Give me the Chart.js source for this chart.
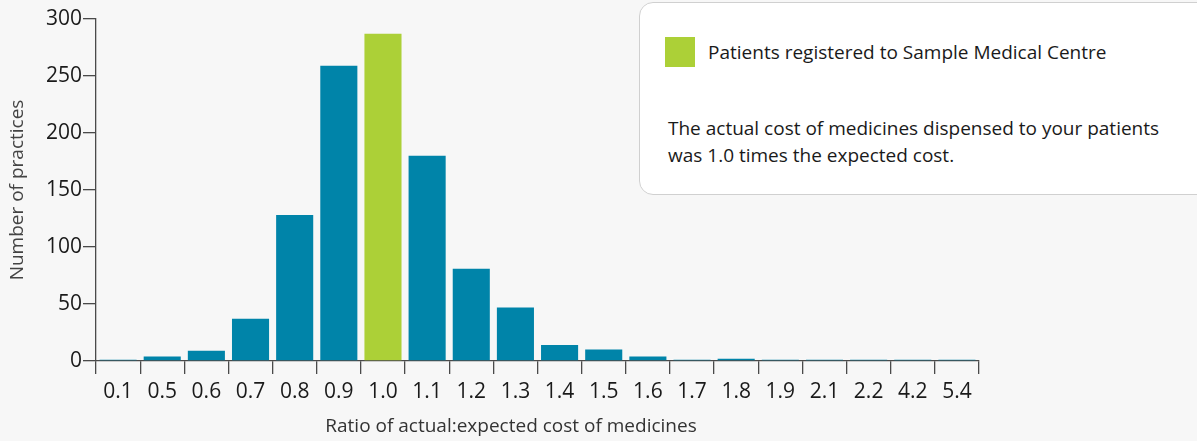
<!DOCTYPE html>
<html>
<head>
<meta charset="utf-8">
<script src="https://cdn.jsdelivr.net/npm/chart.js@4.4.0/dist/chart.umd.min.js"></script>
<style>
  body { margin: 0; background: #f7f7f7; font-family: 'Open Sans', sans-serif; }
  #wrap { position: relative; width: 1197px; height: 441px; overflow: hidden; }
  #legendBox {
    position: absolute; left: 639px; top: 2px; width: 600px; height: 193px;
    background: #fff; border: 1px solid #d0d0d0; border-radius: 14px; box-sizing: border-box;
  }
  #swatch { position: absolute; left: 25px; top: 34px; width: 30px; height: 30px; background: #acd037; }
  #legendLabel { position: absolute; left: 68px; top: 36px; font-size: 19px; color: #1a1a1a; white-space: nowrap; }
  #legendNote { position: absolute; left: 28px; top: 112px; font-size: 19px; line-height: 27px; color: #1a1a1a; white-space: nowrap; }
</style>
</head>
<body>
<div id="wrap">
  <canvas id="costChart" width="1197" height="441"></canvas>
  <div id="legendBox">
    <div id="swatch"></div>
    <div id="legendLabel">Patients registered to Sample Medical Centre</div>
    <div id="legendNote">The actual cost of medicines dispensed to your patients<br>was 1.0 times the expected cost.</div>
  </div>
</div>
<script>
const ratioLabels = ['0.1', '0.5', '0.6', '0.7', '0.8', '0.9', '1.0', '1.1', '1.2', '1.3',
                     '1.4', '1.5', '1.6', '1.7', '1.8', '1.9', '2.1', '2.2', '4.2', '5.4'];
const practiceCounts = [1, 4, 9, 37, 128, 259, 287, 180, 81, 47,
                        14, 10, 4, 1, 2, 1, 1, 1, 1, 1];
const yTicks = [0, 50, 100, 150, 200, 250, 300];
const yourPractice = '1.0';

const TEAL = '#0084a9';
const GREEN = '#acd037';
const AXIS = '#4a4a4a';

const barColors = ratioLabels.map(l => l === yourPractice ? GREEN : TEAL);

// x axis title sits a bit left of the plot centre in the original
const xTitlePlugin = {
  id: 'xTitle',
  afterDraw(chart) {
    const ctx = chart.ctx;
    ctx.save();
    ctx.font = '19px "Open Sans"';
    ctx.fillStyle = '#333';
    ctx.textAlign = 'center';
    ctx.textBaseline = 'middle';
    ctx.fillText('Ratio of actual:expected cost of medicines', 511, 427);
    ctx.restore();
  }
};

new Chart(document.getElementById('costChart'), {
  type: 'bar',
  data: {
    labels: ratioLabels,
    datasets: [{
      data: practiceCounts,
      backgroundColor: barColors,
      borderWidth: 0,
      categoryPercentage: 1,
      barPercentage: 0.84
    }]
  },
  options: {
    responsive: false,
    animation: false,
    layout: { padding: { top: 19, right: 218, left: 0, bottom: 0 } },
    plugins: {
      legend: { display: false },
      tooltip: { enabled: false }
    },
    scales: {
      x: {
        grid: { display: true, drawOnChartArea: false, drawTicks: true, tickLength: 13, color: AXIS, lineWidth: 1.3, offset: true },
        border: { display: true, color: AXIS, width: 1.3 },
        ticks: { color: '#1a1a1a', font: { family: 'Open Sans', size: 21 }, padding: 5, maxRotation: 0, autoSkip: false },
        afterFit(scale) { scale.height = 80; }
      },
      y: {
        min: 0,
        max: 300,
        afterBuildTicks(scale) { scale.ticks = yTicks.map(v => ({ value: v })); },
        grid: { display: true, drawOnChartArea: false, drawTicks: true, tickLength: 13, color: AXIS, lineWidth: 1.3 },
        border: { display: true, color: AXIS, width: 1.3 },
        ticks: { color: '#1a1a1a', font: { family: 'Open Sans', size: 21 }, padding: 1 },
        title: { display: true, text: 'Number of practices', color: '#444', font: { family: 'Open Sans', size: 19 }, padding: { top: 6, bottom: 0 } },
        afterFit(scale) { scale.width = 96; }
      }
    }
  },
  plugins: [xTitlePlugin]
});
</script>
</body>
</html>
